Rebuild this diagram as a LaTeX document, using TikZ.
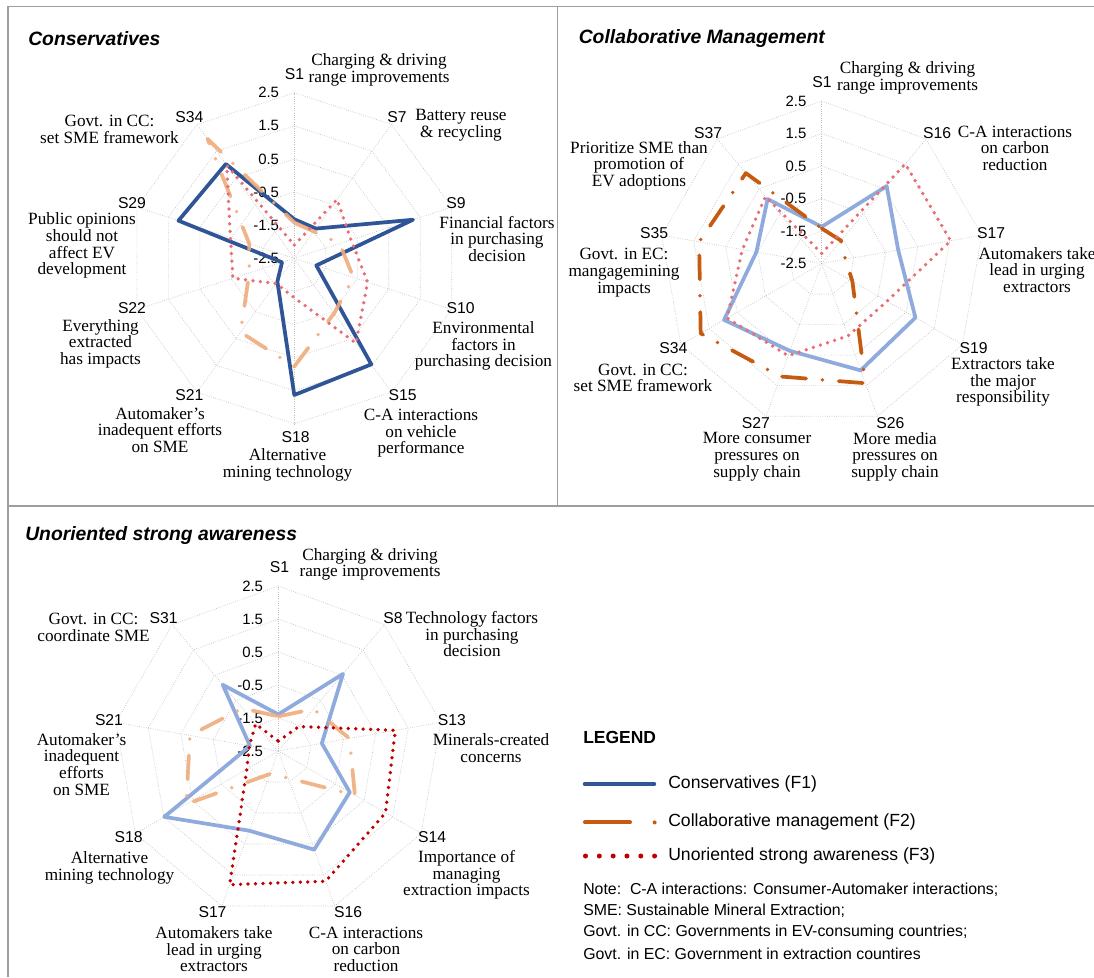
\documentclass[tikz,border=0pt]{standalone}
\usepackage{fontspec}
\setmainfont{Liberation Serif}
\setsansfont{Liberation Sans}

\definecolor{blueD}{RGB}{47,85,151}
\definecolor{blueL}{RGB}{143,170,220}
\definecolor{orangeD}{RGB}{197,90,17}
\definecolor{orangeL}{RGB}{240,172,125}
\definecolor{redD}{RGB}{192,0,0}
\definecolor{redL}{RGB}{232,110,118}

\newcommand{\chartvalfont}{\sffamily\fontsize{11.2}{12}\selectfont}
\newcommand{\chartcatfont}{\sffamily\fontsize{11.8}{13}\selectfont}
\newcommand{\chartdescfont}{\fontsize{12.9}{12.5}\selectfont}
\newcommand{\charttitlefont}{\sffamily\bfseries\itshape\fontsize{14.5}{16}\selectfont}
\newcommand{\legendfont}{\sffamily\fontsize{13.2}{15}\selectfont}
\newcommand{\notefont}{\sffamily\fontsize{11.9}{14}\selectfont}

\tikzset{
  ringline/.style={draw=black!25, line width=0.5pt, dash pattern=on 0.5pt off 1.2pt},
  panelframe/.style={draw=black!38, line width=0.9pt},
  vlab/.style={font=\chartvalfont, anchor=east, inner sep=0pt},
  slab/.style={font=\chartcatfont, inner sep=0pt},
  desc/.style={font=\chartdescfont, align=center, inner sep=0pt},
  paneltitle/.style={font=\charttitlefont, anchor=west, inner sep=0pt},
  legtext/.style={font=\legendfont, anchor=west, inner sep=0pt},
  notetext/.style={font=\notefont, anchor=west, inner sep=0pt},
  solidline/.style={line width=2.8pt, line join=round},
  dashdotline/.style={line width=2.8pt, line cap=round, line join=round,
    dash pattern=on 18pt off 12.3pt on 0pt off 12.3pt},
  dotline/.style={line width=2.8pt, line cap=round, dash pattern=on 0pt off 5.6pt},
}

% #1 = number of axes, #2 = length of one unit, #3 = chart tag
\newcommand{\radargrid}[3]{%
  \pgfmathtruncatemacro{\lastaxis}{#1-1}%
  \foreach \i in {0,...,\lastaxis}
    \draw[ringline] (0,0) -- ({90-360/#1*\i}:{5*#2});
  \foreach \k in {1,...,5} {
    \draw[ringline] (90:{\k*#2})
      \foreach \i in {1,...,\lastaxis} { -- ({90-360/#1*\i}:{\k*#2}) } -- cycle;
  }
  \foreach \v [count=\k from 0] in {-2.5,-1.5,-0.5,0.5,1.5,2.5}
    \node[vlab] (#3v\k) at (-15,{\k*#2}) {\v};
}

% #1 = style, #2 = number of axes, #3 = length of one unit, #4 = values (axis minimum -2.5)
\newcommand{\radarseries}[4]{%
  \pgfmathtruncatemacro{\lastaxis}{#2-1}%
  \foreach \v [count=\i from 0] in {#4}
    \coordinate (rp\i) at ({90-360/#2*\i}:{(\v+2.5)*#3});
  \draw[#1] (rp0) \foreach \i in {1,...,\lastaxis} { -- (rp\i) } -- cycle;
}

\begin{document}
\begin{tikzpicture}[x=0.75pt, y=0.75pt]
\fill[white] (0,0) rectangle (1094,-977);
\useasboundingbox (0,0) rectangle (1094,-977);

% panel frame
\coordinate (ftl) at (8,-6.5);
\coordinate (ftr) at (1094,-6.5);
\coordinate (fml) at (8,-506);
\coordinate (fmr) at (1094,-506);
\coordinate (fbl) at (8,-977);
\coordinate (fmt) at (557.5,-6.5);
\coordinate (fmb) at (557.5,-506);
\draw[panelframe] (ftr) -- (ftl) -- (fbl);
\draw[panelframe] (fml) -- (fmr);
\draw[panelframe] (fmt) -- (fmb);

% ---------------- Conservatives ----------------
\node[paneltitle] (t1) at (28,-38.3) {Conservatives};
\begin{scope}[shift={(294.3,-258.3)}]
  \radargrid{10}{33.1}{a}
  % order: S1 S7 S9 S10 S15 S18 S21 S22 S29 S34
  \radarseries{solidline, draw=blueD}{10}{33.1}{-1.32,-1.39,1.27,-1.8,1.46,1.63,-1.63,-2.11,1.18,1.02}
  \radarseries{dashdotline, draw=orangeL, draw opacity=0.9}{10}{33.1}{-1.42,-1.5,-1.06,-0.62,-0.45,0.77,0.26,-1.07,-1.07,1.96}
  \radarseries{dotline, draw=redL}{10}{33.1}{-2.1,-0.3,-0.7,-0.17,0.67,-1.31,-1.56,-0.55,-0.47,0.97}
\end{scope}
\node[slab] (a1) at (294.6,-74) {S1};
\node[slab] (a7) at (397,-117.3) {S7};
\node[slab] (a9) at (456,-202.7) {S9};
\node[slab] (a10) at (460.7,-308.3) {S10};
\node[slab] (a15) at (402.5,-395) {S15};
\node[slab] (a18) at (295.7,-436.7) {S18};
\node[slab] (a21) at (189.3,-395) {S21};
\node[slab] (a22) at (132,-308.3) {S22};
\node[slab] (a29) at (132,-202.7) {S29};
\node[slab] (a34) at (189.3,-117.3) {S34};
\node[desc] (ad1) at (379,-70) {Charging \& driving\\range improvements};
\node[desc] (ad7) at (461,-125) {Battery reuse\\\& recycling};
\node[desc] (ad9) at (497,-238.7) {Financial factors\\in purchasing\\decision};
\node[desc] (ad10) at (483.5,-345.9) {Environmental\\factors in\\purchasing decision};
\node[desc] (ad15) at (421,-433.3) {C-A interactions\\on vehicle\\performance};
\node[desc] (ad18) at (287.5,-465) {Alternative\\mining technology};
\node[desc] (ad21) at (160,-430) {Automaker’s\\inadequent efforts\\on SME};
\node[desc] (ad22) at (100.5,-343.7) {Everything\\extracted\\has impacts};
\node[desc] (ad29) at (82,-245.7) {Public opinions\\should not\\affect EV\\development};
\node[desc] (ad34) at (109.5,-129.5) {Govt. in CC:\\set SME framework};

% ---------------- Collaborative Management ----------------
\node[paneltitle] (t2) at (578.5,-38.3) {Collaborative Management};
\begin{scope}[shift={(821.7,-263.5)}]
  \radargrid{9}{32.5}{b}
  % order: S1 S16 S17 S19 S26 S27 S34 S35 S37
  \radarseries{solidline, draw=blueL}{9}{32.5}{-1.37,0.61,-0.11,0.83,1.0,0.36,0.97,-0.46,0.09}
  \radarseries{dashdotline, draw=orangeD}{9}{32.5}{-1.42,-1.58,-1.76,-1.41,1.42,1.2,1.8,1.33,1.13}
  \radarseries{dotline, draw=redL}{9}{32.5}{-2.19,1.5,1.53,-0.18,-0.13,0.52,0.86,-0.02,0.19}
\end{scope}
\node[slab] (b1) at (821.9,-81.7) {S1};
\node[slab] (b16) at (937.2,-132.7) {S16};
\node[slab] (b17) at (991,-233.3) {S17};
\node[slab] (b19) at (973.6,-347.7) {S19};
\node[slab] (b26) at (890.3,-422.7) {S26};
\node[slab] (b27) at (755.9,-422.7) {S27};
\node[slab] (b34) at (673.3,-347.7) {S34};
\node[slab] (b35) at (654.2,-233.3) {S35};
\node[slab] (b37) at (708,-133.3) {S37};
\node[desc] (bd1) at (907.5,-77.7) {Charging \& driving\\range improvements};
\node[desc] (bd16) at (1015,-148.3) {C-A interactions\\on carbon\\reduction};
\node[desc] (bd17) at (1037,-270) {Automakers take\\lead in urging\\extractors};
\node[desc] (bd19) at (1003,-382) {Extractors take\\the major\\responsibility};
\node[desc] (bd26) at (895,-456.7) {More media\\pressures on\\supply chain};
\node[desc] (bd27) at (757,-456.7) {More consumer\\pressures on\\supply chain};
\node[desc] (bd34) at (643,-378) {Govt. in CC:\\set SME framework};
\node[desc] (bd35) at (624,-272.7) {Govt. in EC:\\mangagemining\\impacts};
\node[desc] (bd37) at (639,-165.7) {Prioritize SME than\\promotion of\\EV adoptions};

% ---------------- Unoriented strong awareness ----------------
\node[paneltitle] (t3) at (25,-535) {Unoriented strong awareness};
\begin{scope}[shift={(278.3,-751)}]
  \radargrid{9}{33}{c}
  % order: S1 S8 S13 S14 S16 S17 S18 S21 S31
  \radarseries{solidline, draw=blueL}{9}{33}{-1.39,0.55,-1.16,0.0,0.68,0.07,1.49,-1.63,0.12}
  \radarseries{dashdotline, draw=orangeL, draw opacity=0.9}{9}{33}{-1.45,-0.84,-0.31,0.18,-1.63,-1.76,0.72,0.22,-0.81}
  \radarseries{dotline, draw=redD}{9}{33}{-2.2,-1.53,1.1,1.25,1.7,1.81,-1.4,-1.61,-1.43}
\end{scope}
\node[slab] (c1) at (279.6,-567.3) {S1};
\node[slab] (c8) at (392.9,-618.3) {S8};
\node[slab] (c13) at (451.8,-720) {S13};
\node[slab] (c14) at (432,-836.7) {S14};
\node[slab] (c16) at (348.2,-911.7) {S16};
\node[slab] (c17) at (212.5,-911.7) {S17};
\node[slab] (c18) at (128.6,-836.7) {S18};
\node[slab] (c21) at (109,-720) {S21};
\node[slab] (c31) at (163.6,-618.3) {S31};
\node[desc] (cd1) at (370,-564.3) {Charging \& driving\\range improvements};
\node[desc] (cd8) at (472,-634.3) {Technology factors\\in purchasing\\decision};
\node[desc] (cd13) at (491,-748.3) {Minerals-created\\concerns};
\node[desc] (cd14) at (466.5,-874.8) {Importance of\\managing\\extraction impacts};
\node[desc] (cd16) at (366,-949.3) {C-A interactions\\on carbon\\reduction};
\node[desc] (cd17) at (214,-949.3) {Automakers take\\lead in urging\\extractors};
\node[desc] (cd18) at (109.5,-868) {Alternative\\mining technology};
\node[desc] (cd21) at (81.5,-764.3) {Automaker’s\\inadequent\\efforts\\on SME};
\node[desc] (cd31) at (93.5,-627.3) {Govt. in CC:\\coordinate SME};

% ---------------- Legend ----------------
\node[anchor=west, inner sep=0pt, font=\sffamily\bfseries\fontsize{13.1}{15}\selectfont] (leg) at (583,-737) {LEGEND};
\coordinate (l1a) at (584.5,-784);
\coordinate (l1b) at (654.5,-784);
\draw[draw=blueD, line width=2.6pt, line cap=round] (l1a) -- (l1b);
\node[legtext] (l1t) at (668,-784) {Conservatives (F1)};
\coordinate (l2a) at (585,-822.4);
\coordinate (l2b) at (630,-822.4);
\coordinate (l2c) at (654.6,-822.4);
\draw[draw=orangeD, line width=3pt, line cap=round] (l2a) -- (l2b);
\fill[orangeD] (l2c) circle[radius=2];
\node[legtext] (l2t) at (668,-822.4) {Collaborative management (F2)};
\foreach \k in {0,...,5} {
  \coordinate (l3d\k) at ({585.5+13.82*\k},-856);
  \fill[redD] (l3d\k) circle[radius=2.5];
}
\node[legtext] (l3t) at (668,-856) {Unoriented strong awareness (F3)};
\node[notetext] (n1) at (583,-889.8) {Note:\ \ C-A interactions: Consumer-Automaker interactions;};
\node[notetext] (n2) at (583,-910.9) {SME: Sustainable Mineral Extraction;};
\node[notetext] (n3) at (583,-932.3) {Govt. in CC: Governments in EV-consuming countries;};
\node[notetext] (n4) at (583,-953.4) {Govt. in EC: Government in extraction countires};
\end{tikzpicture}
\end{document}
